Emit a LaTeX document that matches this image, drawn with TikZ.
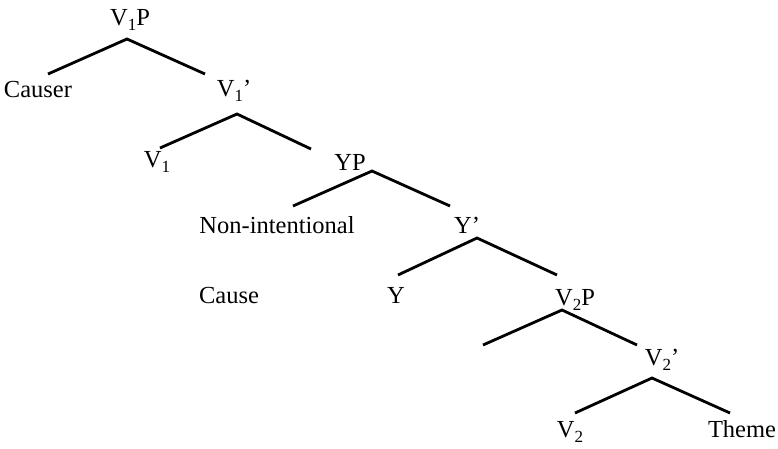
\documentclass[tikz,border=0pt]{standalone}
\usepackage{fontspec}
\setmainfont{Liberation Serif}
\usetikzlibrary{positioning}
\newcommand\lsub[1]{\raisebox{-0.22em}{\fontsize{17}{20}\selectfont #1}}
\tikzset{
  lbl/.style = {anchor=base, inner sep=0pt, font=\fontsize{24.5}{28}\selectfont},
  br/.style  = {line width=2.8pt, line cap=butt}
}
\begin{document}
\begin{tikzpicture}[x=1pt, y=-1pt]
  \useasboundingbox (0,0) rectangle (778,448);
  % labels
  \node[lbl] (v1p)    at (130,25)  {V\lsub{1}P};
  \node[lbl] (causer) at (38,97)   {Causer};
  \node[lbl] (v1bar)  at (234,96)  {V\lsub{1}'};
  \node[lbl] (v1)     at (157,167) {V\lsub{1}};
  \node[lbl] (yp)     at (350,170) {YP};
  \node[lbl] (nonint) at (277,233) {Non-intentional};
  \node[lbl] (ybar)   at (467,233) {Y'};
  \node[lbl] (cause)  at (229,303) {Cause};
  \node[lbl] (y)      at (396,303) {Y};
  \node[lbl] (v2p)    at (575,305) {V\lsub{2}P};
  \node[lbl] (v2bar)  at (662,365) {V\lsub{2}'};
  \node[lbl] (v2)     at (570,437) {V\lsub{2}};
  \node[lbl] (theme)  at (742,437) {Theme};
  % branch points
  \coordinate (v1p-a)   at (127,39);  \coordinate (v1p-l)   at (48,74);   \coordinate (v1p-r)   at (205,74);
  \coordinate (v1bar-a) at (237,114); \coordinate (v1bar-l) at (160,148); \coordinate (v1bar-r) at (311,149);
  \coordinate (yp-a)    at (372,171); \coordinate (yp-l)    at (293,206); \coordinate (yp-r)    at (450,206);
  \coordinate (ybar-a)  at (477,238); \coordinate (ybar-l)  at (398,275); \coordinate (ybar-r)  at (557,275);
  \coordinate (v2p-a)   at (562,310); \coordinate (v2p-l)   at (483,345); \coordinate (v2p-r)   at (637,345);
  \coordinate (v2bar-a) at (652,378); \coordinate (v2bar-l) at (575,413); \coordinate (v2bar-r) at (730,413);
  % branches
  \draw[br] (v1p-l) -- (v1p-a) -- (v1p-r);
  \draw[br] (v1bar-l) -- (v1bar-a) -- (v1bar-r);
  \draw[br] (yp-l) -- (yp-a) -- (yp-r);
  \draw[br] (ybar-l) -- (ybar-a) -- (ybar-r);
  \draw[br] (v2p-l) -- (v2p-a) -- (v2p-r);
  \draw[br] (v2bar-l) -- (v2bar-a) -- (v2bar-r);
\end{tikzpicture}
\end{document}
